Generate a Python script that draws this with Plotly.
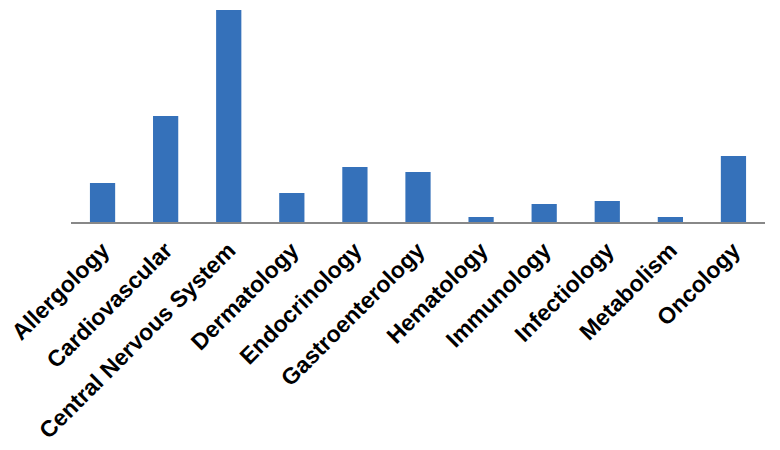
import plotly.graph_objects as go

categories = ["Allergology", "Cardiovascular", "Central Nervous System", "Dermatology",
              "Endocrinology", "Gastroenterology", "Hematology", "Immunology",
              "Infectiology", "Metabolism", "Oncology"]
values = [39, 106, 212, 29, 55, 50, 5, 18, 21, 5, 66]

fig = go.Figure(go.Bar(
    x=categories, y=values,
    marker=dict(color="#3571ba", line=dict(width=0)),
))

fig.update_layout(
    width=780, height=450,
    margin=dict(l=63, r=23, t=2, b=236, autoexpand=False),
    paper_bgcolor="white", plot_bgcolor="white",
    bargap=0.6,
    showlegend=False,
    xaxis=dict(
        showline=True, linecolor="#888888", linewidth=1.5,
        ticks="", tickangle=-45, automargin=False, ticklabelstandoff=4,
        tickfont=dict(family="Liberation Sans", size=23, color="black", weight="bold"),
        showgrid=False,
    ),
    yaxis=dict(visible=False, range=[0, 212], showgrid=False, zeroline=False),
)

fig.write_html("out.html")
